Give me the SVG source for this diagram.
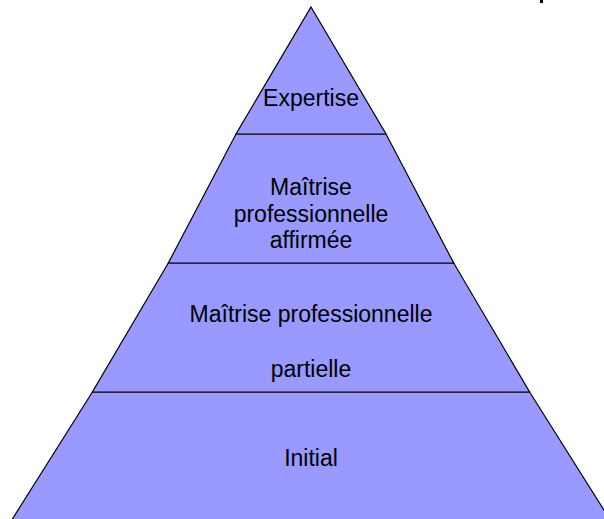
<svg xmlns="http://www.w3.org/2000/svg" width="604" height="519" viewBox="0 0 604 519">
<style>
.band{fill:#9999ff;stroke:#000;stroke-width:1.2;stroke-linejoin:miter}
.t{font-family:"Liberation Sans",Arial,sans-serif;font-size:23px;fill:#000;text-anchor:middle}
</style>
<rect width="604" height="519" fill="#fff"/>
<rect x="540" y="0" width="3" height="3" fill="#000"/>
<g id="level-initial">
<polygon class="band" points="92.4,392 529.6,392 613.4,525 8.6,525"/>
<text class="t" x="311" y="466">Initial</text>
</g>
<g id="level-partielle">
<polygon class="band" points="168.3,263 453.7,263 529.6,392 92.4,392"/>
<text class="t" x="311" y="322">Maîtrise professionnelle</text>
<text class="t" x="311" y="377">partielle</text>
</g>
<g id="level-affirmee">
<polygon class="band" points="236,134 386,134 453.7,263 168.3,263"/>
<text class="t" x="311" y="195">Maîtrise</text>
<text class="t" x="311" y="222">professionnelle</text>
<text class="t" x="311" y="248">affirmée</text>
</g>
<g id="level-expertise">
<polygon class="band" points="311,7 386,134 236,134"/>
<text class="t" x="311" y="106">Expertise</text>
</g>
<g id="connectors"></g>
</svg>
